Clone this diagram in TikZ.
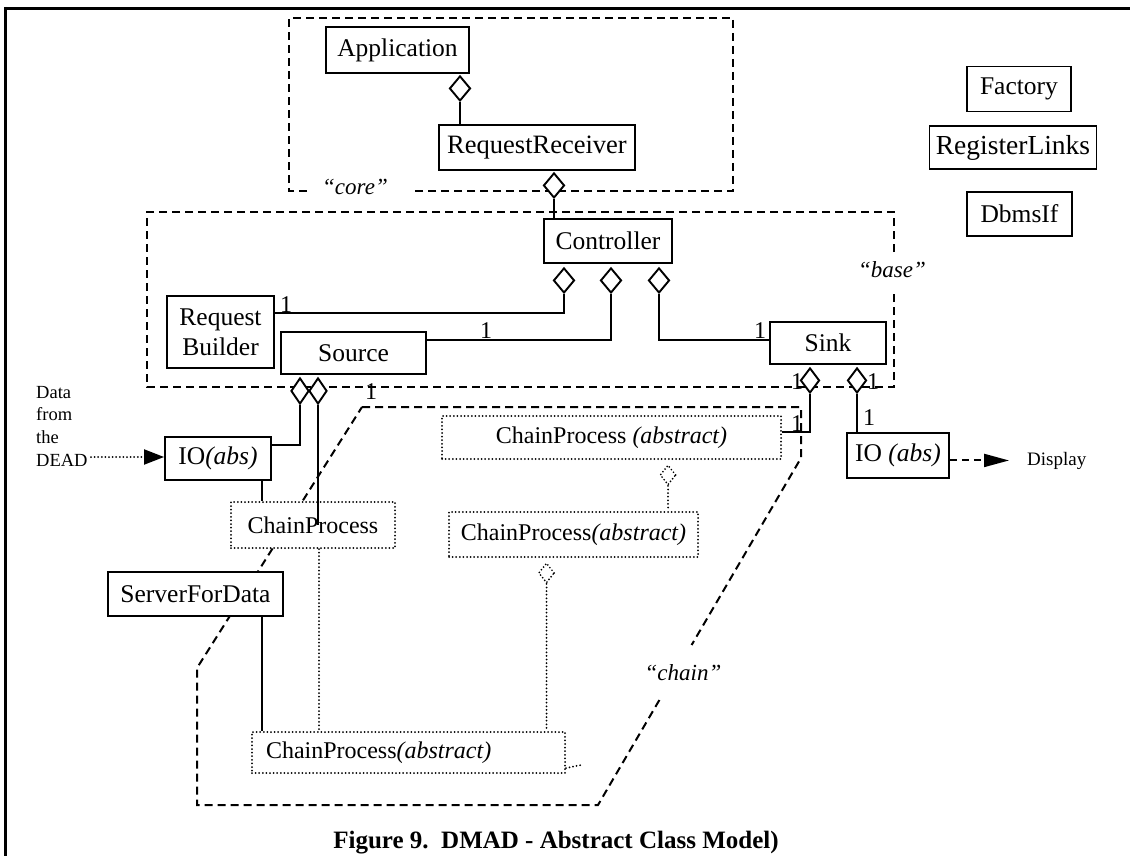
\documentclass[tikz,border=0pt]{standalone}
\usepackage{fontspec}
\setmainfont{Liberation Serif}
\usetikzlibrary{shapes.geometric,arrows.meta}
\tikzset{
 cls/.style={draw, line width=1.9pt, fill=white, inner sep=0pt, font=\fontsize{25.5}{30}\selectfont},
 dcls/.style={cls, line cap=round, dash pattern=on 0pt off 3.6pt, line width=2pt, font=\fontsize{24}{28}\selectfont},
 agg/.style={diamond, draw, line width=1.9pt, fill=white, inner sep=0pt, minimum width=21pt, minimum height=25pt},
 dagg/.style={agg, line cap=round, dash pattern=on 0pt off 3.4pt, minimum width=16pt, minimum height=20pt},
 conn/.style={line width=2pt},
 dconn/.style={line width=2pt, line cap=round, dash pattern=on 0pt off 3.6pt},
 region/.style={line width=2pt, dash pattern=on 8pt off 5pt},
 mult/.style={inner sep=0pt, font=\fontsize{24}{24}\selectfont},
 grp/.style={inner sep=0pt, font=\fontsize{23}{23}\selectfont\itshape},
 small/.style={inner sep=0pt, font=\fontsize{18.5}{22}\selectfont},
}
\begin{document}
\begin{tikzpicture}[x=1pt,y=-1pt]
\useasboundingbox (0,0) rectangle (1130,856);
\fill[white] (0,0) rectangle (1130,856);
% frame
\draw[line width=3.5pt] (4,8.5) -- (1130,8.5);
\draw[line width=2.5pt] (5.5,7) -- (5.5,856);
% regions
\draw[region] (307,191) -- (289,191) -- (289,18) -- (733,18) -- (733,191) -- (414,191);
\node[grp] (core) at (355,187) {“core”};
\draw[region] (894,252) -- (894,212) -- (147,212) -- (147,387) -- (894,387) -- (894,292);
\node[grp] (base) at (892,270) {“base”};
\draw[region] (362,407) -- (801,407) -- (801,458) -- (691.6,645);
\draw[region] (659.4,700) -- (598,805) -- (197,805) -- (197,668) -- (362,407);
\node[grp] (chain) at (683,673) {“chain”};
% classes
\node[cls, minimum width=143pt, minimum height=46pt] (app) at (397.5,50) {Application};
\node[cls, minimum width=196pt, minimum height=45pt, font=\fontsize{26.5}{30}\selectfont] (rr) at (537,147.5) {RequestReceiver};
\node[cls, minimum width=128pt, minimum height=44pt] (ctrl) at (608,241) {Controller};
\node[cls, minimum width=104pt, minimum height=45pt] (factory) at (1019,89) {Factory};
\node[cls, minimum width=167pt, minimum height=43pt, font=\fontsize{27.5}{30}\selectfont] (reglinks) at (1013,147.5) {RegisterLinks};
\node[cls, minimum width=105pt, minimum height=44pt] (dbms) at (1019.5,214) {DbmsIf};
\node[cls, align=center, minimum width=107pt, minimum height=72pt] (rb) at (220.5,332) {Request\\Builder};
\node[cls, minimum width=145pt, minimum height=42pt] (source) at (353.5,353) {Source};
\node[cls, minimum width=116pt, minimum height=42pt] (sink) at (828,343) {Sink};
\node[cls, minimum width=106pt, minimum height=43pt] (iol) at (218,458.5) {IO\textit{(abs)}};
\node[cls, minimum width=102pt, minimum height=45pt] (ior) at (898,455.5) {IO \textit{(abs)}};
\node[cls, minimum width=175pt, minimum height=44pt] (sfd) at (195.5,594) {ServerForData};
\node[dcls, minimum width=339pt, minimum height=43pt] (cptop) at (611.5,437.5) {ChainProcess \textit{(abstract)}};
\node[dcls, minimum width=164pt, minimum height=46pt] (cpl) at (313,525) {ChainProcess};
\node[dcls, minimum width=249pt, minimum height=45pt] (cpmid) at (573.5,534.5) {ChainProcess\textit{(abstract)}};
\node[dcls, text width=285pt, inner xsep=14pt, align=left, minimum height=41pt] (cpbot) at (408.5,752.5) {ChainProcess\textit{(abstract)}};
% diamonds
\node[agg, anchor=north] (dapp) at (460,75) {};
\node[agg, anchor=north] (drr) at (554,172) {};
\node[agg, anchor=north] (dc1) at (564,267) {};
\node[agg, anchor=north] (dc2) at (611,267) {};
\node[agg, anchor=north] (dc3) at (659,267) {};
\node[agg, anchor=north, minimum width=18pt, minimum height=26pt] (ds1) at (300,377) {};
\node[agg, anchor=north, minimum width=18pt, minimum height=26pt] (ds2) at (318,377) {};
\node[agg, anchor=north, minimum width=19pt] (dsk1) at (810,367) {};
\node[agg, anchor=north, minimum width=19pt] (dsk2) at (857,367) {};
\node[dagg, anchor=north] (ddt) at (668,464) {};
\node[dagg, anchor=north] (ddm) at (546.5,562) {};
% connectors
\draw[conn] (dapp.south) -- (dapp.south |- rr.north);
\draw[conn] (drr.south) -- (drr.south |- ctrl.north);
\draw[conn] (dc1.south) |- ([yshift=19pt]rb.east);
\draw[conn] (dc2.south) |- ([yshift=13pt]source.east);
\draw[conn] (dc3.south) |- ([yshift=3pt]sink.west);
\draw[conn] (ds1.south) |- ([yshift=13.5pt]iol.east);
\draw[conn] (ds2.south) -- (ds2.south |- cpl.center);
\draw[conn] ([xshift=44pt]iol.south) -- ([xshift=44pt]iol.south |- cpl.north);
\draw[dconn] ([xshift=6pt]cpl.south) -- ([xshift=6pt]cpl.south |- cpbot.north);
\draw[conn] ([xshift=66.5pt]sfd.south) -- ([xshift=66.5pt]sfd.south |- cpbot.north);
\draw[dconn] (ddt.south) -- (ddt.south |- cpmid.north);
\draw[dconn] (ddm.south) -- (ddm.south |- cpbot.north);
\draw[conn] (dsk1.south) |- ([yshift=5.5pt]cptop.east);
\draw[conn] (dsk2.south) -- (dsk2.south |- ior.north);
\draw[dconn] ([yshift=-15.5pt]cpbot.east) -- ++(15,-3);
% data in / out
\node[small, anchor=base west] (d1) at (36,398) {Data};
\node[small, anchor=base west] (d2) at (36,420.5) {from};
\node[small, anchor=base west] (d3) at (36,443) {the};
\node[small, anchor=base west] (d4) at (36,466) {DEAD};
\coordinate (deadE) at (91,457);
\draw[dconn, -{Triangle[length=20pt,width=15pt]}] (deadE) -- (iol.west |- deadE);
\node[small, anchor=base west, font=\fontsize{19}{22}\selectfont] (display) at (1027,465) {Display};
\draw[line width=2pt, dash pattern=on 7pt off 5pt, -{Triangle[length=25pt,width=13pt]}, shorten >=18pt] (ior.east |- display.west) -- (display.west);
% multiplicities
\node[mult] (m1) at (286,305) {1};
\node[mult] (m2) at (486,331) {1};
\node[mult] (m3) at (760,331) {1};
\node[mult] (m4) at (371,392) {1};
\node[mult] (m5) at (797,382) {1};
\node[mult] (m6) at (873,382) {1};
\node[mult] (m7) at (869,418) {1};
\node[mult] (m8) at (797,424) {1};
% caption
\node[inner sep=0pt, anchor=base, font=\fontsize{25}{30}\selectfont\bfseries] (caption) at (556,848) {Figure 9.\hspace{0.5em}DMAD - Abstract Class Model)};
\end{tikzpicture}
\end{document}
